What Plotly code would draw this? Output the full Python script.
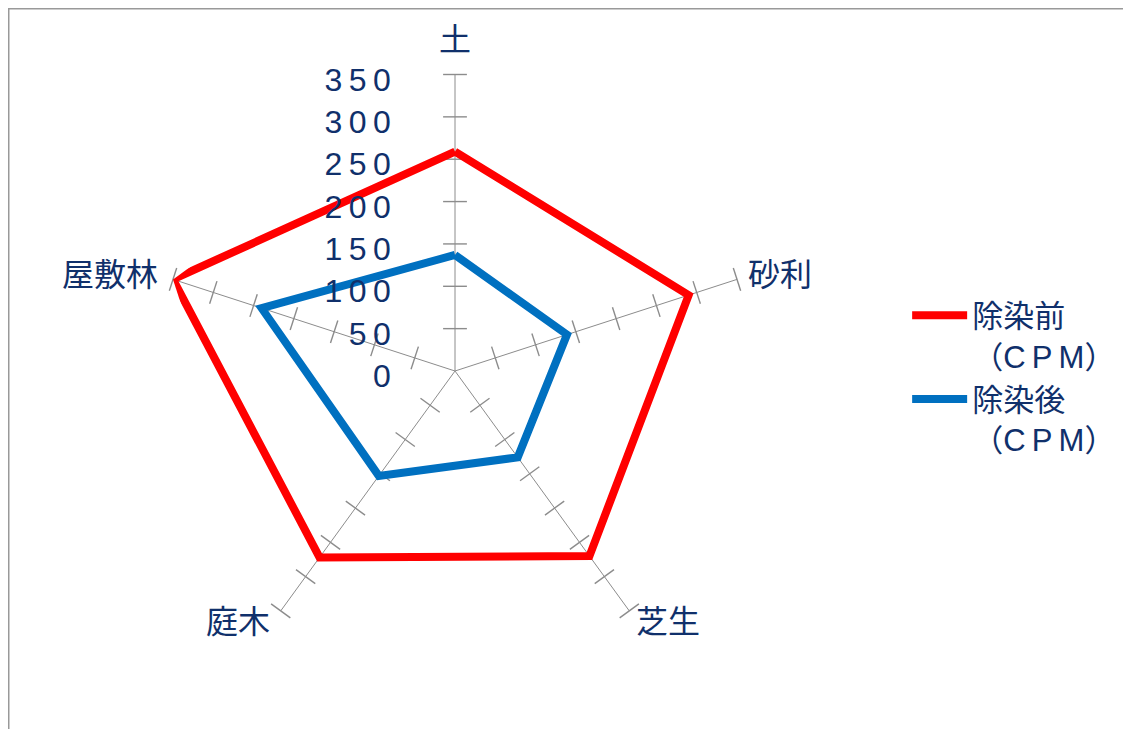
import math
import plotly.graph_objects as go

categories = ["土", "砂利", "芝生", "庭木", "屋敷林"]
before = [259, 290, 270, 272, 350]
after = [137, 139, 126, 153, 240]
series_names = ["除染前<br>（C\u2009P\u2009M）", "除染後<br>（C\u2009P\u2009M）"]
tick_values = [0, 50, 100, 150, 200, 250, 300, 350]
tick_labels = ["\u2009".join(str(v)) for v in tick_values]

NAVY = "#10306B"
GRAY = "#8C8C8C"
FONT = "Liberation Sans, Arial, Noto Sans CJK JP, sans-serif"

fig = go.Figure()

# tick marks on every spoke
step = 360 / len(categories)
tr, tt, ta = [], [], []
for i, c in enumerate(categories):
    for v in tick_values[1:]:
        tr.append(v)
        tt.append(c)
        ta.append(step * i)
fig.add_trace(go.Scatterpolar(
    r=tr, theta=tt, mode="markers", showlegend=False, hoverinfo="skip",
    marker=dict(symbol="line-ew", size=17, angle=ta,
                line=dict(color=GRAY, width=1.4), color=GRAY),
))

for vals, name, col in [(before, series_names[0], "#FF0000"),
                        (after, series_names[1], "#0070C0")]:
    fig.add_trace(go.Scatterpolar(
        r=vals + vals[:1], theta=categories + categories[:1],
        mode="lines", name=name,
        line=dict(color=col, width=8),
    ))

W, H = 1131, 729
cx, cy, R = 447, 363, 296.5
PAD = 14

# category labels placed just beyond each spoke end
annotations = []
for i, c in enumerate(categories):
    a = math.radians(step * i)
    s, co = math.sin(a), math.cos(a)
    px = cx + (R + PAD) * s
    py = cy - (R + PAD) * co
    xa = "left" if s > 0.1 else ("right" if s < -0.1 else "center")
    ya = "bottom" if co > 0.9 else "middle"
    annotations.append(dict(text=c, x=px / W, y=1 - py / H, xref="paper", yref="paper",
                            xanchor=xa, yanchor=ya, showarrow=False,
                            xshift=-4 if xa == "left" else 0,
                            font=dict(size=32, color=NAVY, family=FONT)))

fig.update_layout(
    width=W, height=H,
    margin=dict(l=0, r=0, t=0, b=0),
    paper_bgcolor="white",
    font=dict(family=FONT, color=NAVY, size=30),
    polar=dict(
        domain=dict(x=[(cx - R) / W, (cx + R) / W],
                    y=[(H - cy - R) / H, (H - cy + R) / H]),
        bgcolor="white",
        gridshape="linear",
        radialaxis=dict(range=[0, 350], angle=90, side="counterclockwise",
                        tickvals=tick_values, ticktext=tick_labels,
                        showgrid=False, showline=False,
                        ticks="outside", ticklen=35, tickcolor="rgba(0,0,0,0)",
                        tickfont=dict(size=32, color=NAVY)),
        angularaxis=dict(direction="clockwise", rotation=90,
                         showgrid=True, gridcolor=GRAY, gridwidth=1.4,
                         showline=False, ticks="", showticklabels=False),
    ),
    annotations=annotations,
    legend=dict(x=0.795, y=0.615, xanchor="left", yanchor="top",
                valign="top", itemwidth=55, tracegroupgap=0,
                bgcolor="rgba(0,0,0,0)",
                font=dict(size=31, color=NAVY, family=FONT)),
    shapes=[dict(type="rect", xref="paper", yref="paper",
                 x0=0, x1=1.05, y0=-0.05, y1=1,
                 line=dict(color="#999999", width=3))],
)

fig.write_html("out.html")
